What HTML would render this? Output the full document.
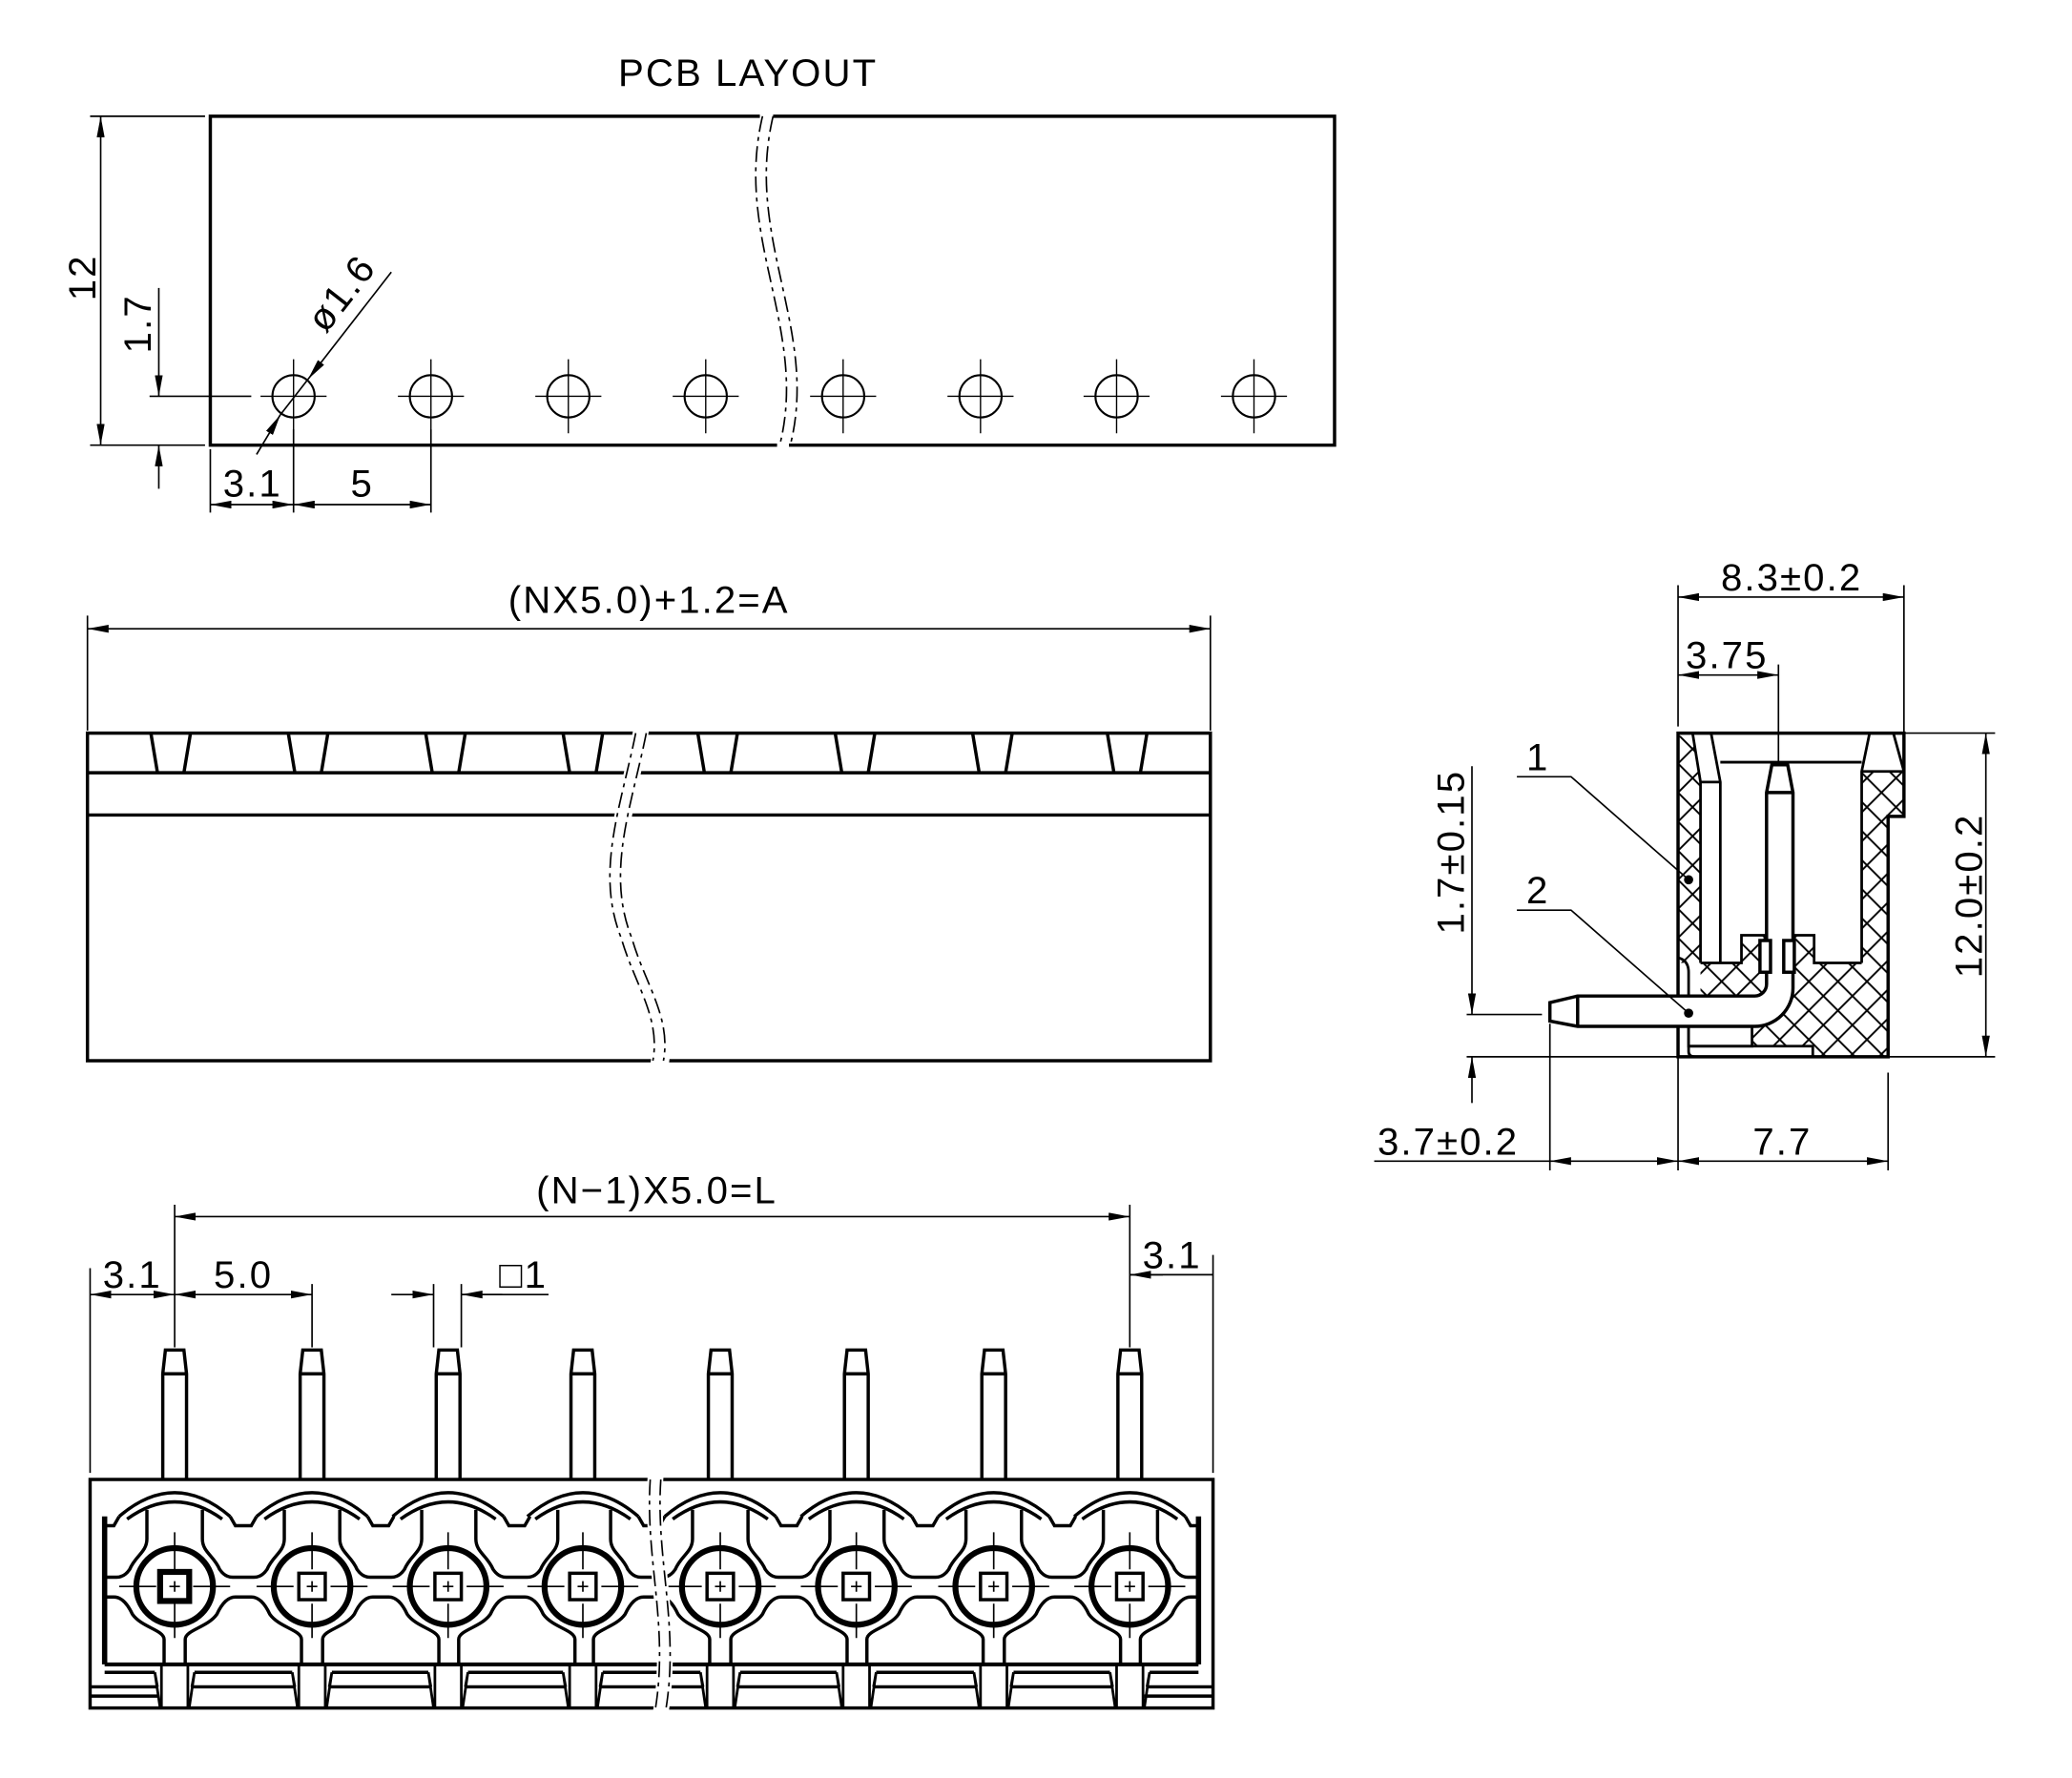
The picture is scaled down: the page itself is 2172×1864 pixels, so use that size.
<!DOCTYPE html>
<html><head><meta charset="utf-8"><style>
html,body{margin:0;padding:0;background:#fff}
svg{display:block}
text{font-family:"Liberation Sans",sans-serif;font-size:29px;fill:#000;letter-spacing:1.5px}
</style></head><body>
<svg width="2172" height="1864" viewBox="0 0 1568 1346" xmlns="http://www.w3.org/2000/svg">
<defs>
<marker id="a" viewBox="0 0 16 6" refX="16" refY="3" markerWidth="16" markerHeight="6" markerUnits="userSpaceOnUse" orient="auto-start-reverse"><path d="M0,0 L16,3 L0,6 Z" fill="#000"/></marker>
<pattern id="h" width="22" height="22" patternUnits="userSpaceOnUse" x="1270" y="556"><path d="M0,0 L22,22 M22,0 L0,22" stroke="#000" stroke-width="1.4"/></pattern>
<clipPath id="inner"><rect x="79" y="1140" width="828" height="120"/></clipPath>
<g id="hole"><circle cx="0" cy="300" r="16" fill="none" stroke="#000" stroke-width="1.5"/><path d="M-25,300 H25 M0,272 V328" stroke="#000" stroke-width="1"/></g>
<g id="pin" fill="none" stroke="#000" stroke-width="2.5"><path d="M-9,1120 V1040 L-7,1022 H7 L9,1040 V1120 M-9,1040 H9"/></g>
<g id="gap" fill="none" stroke="#000" stroke-width="2.5">
<path d="M21,1143 L21,1165 C21,1175 30,1178 34,1188 Q38,1194 44,1194 L60,1194 Q66,1194 70,1188 C74,1178 83,1175 83,1165 L83,1143"/>
<path d="M8,1260 L8,1241 C8,1234 25,1232 32,1222 Q38,1209 46,1209 L58,1209 Q66,1209 72,1222 C79,1232 96,1234 96,1241 L96,1260"/>
<path d="M42,1148 L46,1155 H58 L62,1148"/>
</g>
<g id="term">
<path d="M-42,1148 Q0,1112 42,1148 M-36,1150 Q0,1124 36,1150" fill="none" stroke="#000" stroke-width="2.5"/>
<circle cx="0" cy="1201" r="29" fill="none" stroke="#000" stroke-width="4.5"/>
<rect x="-10" y="1191" width="20" height="20" fill="none" stroke="#000" stroke-width="2.5"/>
<path d="M-4,1201 H4 M0,1197 V1205 M-42,1201 H-14 M14,1201 H42 M0,1160 V1188 M0,1214 V1240" stroke="#000" stroke-width="1.2"/>
<path d="M-10,1260 V1293 M10,1260 V1293 M-15,1266 L-11,1293 M15,1266 L11,1293 M-15,1266 L-13,1277 M15,1266 L13,1277" fill="none" stroke="#000" stroke-width="2"/>
</g>
<g id="notch"><path d="M0,555 L5,585 M30,555 L25,585" stroke="#000" stroke-width="2.5"/></g>
</defs>

<!-- ===== PCB LAYOUT ===== -->
<text x="566" y="65" text-anchor="middle">PCB LAYOUT</text>
<g fill="none" stroke="#000">
<path d="M575,88 H159 V337 H588 M597,337 H1010 V88 H585" stroke-width="2.5"/>
<path d="M577,88 C555,180 612,250 590,337 M585,88 C563,180 620,250 598,337" stroke-width="1.2" stroke-dasharray="12,4,3,4"/>
<path d="M68,88 H155 M68,337 H155" stroke-width="1.2"/>
<line x1="76" y1="88" x2="76" y2="337" stroke-width="1.2" marker-start="url(#a)" marker-end="url(#a)"/>
<line x1="120" y1="218" x2="120" y2="300" stroke-width="1.2" marker-end="url(#a)"/>
<line x1="120" y1="370" x2="120" y2="337" stroke-width="1.2" marker-end="url(#a)"/>
<path d="M113,300 H190" stroke-width="1.2"/>
<line x1="296" y1="206" x2="233" y2="287" stroke-width="1.2" marker-end="url(#a)"/>
<line x1="194" y1="344" x2="212" y2="314" stroke-width="1.2" marker-end="url(#a)"/>
<line x1="212" y1="314" x2="233" y2="287" stroke-width="1.2"/>
<path d="M159,340 V388 M222,325 V388 M326,325 V388" stroke-width="1.2"/>
<line x1="159" y1="382" x2="222" y2="382" stroke-width="1.2" marker-start="url(#a)" marker-end="url(#a)"/>
<line x1="222" y1="382" x2="326" y2="382" stroke-width="1.2" marker-start="url(#a)" marker-end="url(#a)"/>
</g>
<use href="#hole" x="222"/><use href="#hole" x="326"/><use href="#hole" x="430"/><use href="#hole" x="534"/>
<use href="#hole" x="638"/><use href="#hole" x="742"/><use href="#hole" x="845"/><use href="#hole" x="949"/>
<text transform="translate(72,210) rotate(-90)" text-anchor="middle">12</text>
<text transform="translate(114,245) rotate(-90)" text-anchor="middle">1.7</text>
<text transform="translate(266,228) rotate(-52)" text-anchor="middle">ø1.6</text>
<text x="191" y="376" text-anchor="middle">3.1</text>
<text x="274" y="376" text-anchor="middle">5</text>

<!-- ===== SIDE VIEW ===== -->
<text x="491" y="464" text-anchor="middle">(NX5.0)+1.2=A</text>
<g fill="none" stroke="#000">
<path d="M66,466 V553 M916,466 V553" stroke-width="1.2"/>
<line x1="66" y1="476" x2="916" y2="476" stroke-width="1.2" marker-start="url(#a)" marker-end="url(#a)"/>
<rect x="66" y="555" width="850" height="248" stroke-width="2.5"/>
<path d="M66,585 H916 M66,617 H916" stroke-width="2.5"/>
</g>
<use href="#notch" x="114"/><use href="#notch" x="218"/><use href="#notch" x="322"/><use href="#notch" x="426"/>
<use href="#notch" x="528"/><use href="#notch" x="632"/><use href="#notch" x="736"/><use href="#notch" x="838"/>
<path d="M479,553 C468,610 448,660 468,710 C478,745 498,770 492,806 L506,806 C512,770 492,745 480,710 C462,660 482,610 491,553 Z" fill="#fff"/>
<path d="M481,555 C470,610 450,660 470,710 C480,745 500,770 494,803 M489,555 C478,610 458,660 478,710 C488,745 508,770 502,803" fill="none" stroke="#000" stroke-width="1.2" stroke-dasharray="12,4,3,4"/>

<!-- ===== BOTTOM VIEW ===== -->
<text x="497" y="911" text-anchor="middle">(N−1)X5.0=L</text>
<text x="100" y="975" text-anchor="middle">3.1</text>
<text x="184" y="975" text-anchor="middle">5.0</text>
<text x="396" y="975" text-anchor="middle">□1</text>
<text x="887" y="960" text-anchor="middle">3.1</text>
<g fill="none" stroke="#000" stroke-width="1.2">
<path d="M132,912 V1020 M855,912 V1020 M68,960 V1115 M236,972 V1020 M328,972 V1020 M349,972 V1020 M918,950 V1115 M349,980 H415 M855,965 H918"/>
<line x1="132" y1="921" x2="855" y2="921" marker-start="url(#a)" marker-end="url(#a)"/>
<line x1="68" y1="980" x2="132" y2="980" marker-start="url(#a)" marker-end="url(#a)"/>
<line x1="132" y1="980" x2="236" y2="980" marker-start="url(#a)" marker-end="url(#a)"/>
<line x1="296" y1="980" x2="328" y2="980" marker-end="url(#a)"/>
<line x1="380" y1="980" x2="349" y2="980" marker-end="url(#a)"/>
<line x1="880" y1="965" x2="855" y2="965" marker-end="url(#a)"/>
</g>
<use href="#pin" x="132"/><use href="#pin" x="236"/><use href="#pin" x="339"/><use href="#pin" x="441"/>
<use href="#pin" x="545"/><use href="#pin" x="648"/><use href="#pin" x="752"/><use href="#pin" x="855"/>
<g fill="none" stroke="#000" stroke-width="2.5">
<rect x="68" y="1120" width="850" height="173"/>
<path d="M79,1260 H907" stroke-width="3"/>
<path d="M79,1266 H117 M147,1266 H221 M251,1266 H324 M354,1266 H426 M456,1266 H530 M560,1266 H633 M663,1266 H737 M767,1266 H840 M870,1266 H907"/>
<path d="M68,1277 H119 M145,1277 H223 M249,1277 H326 M352,1277 H428 M454,1277 H532 M558,1277 H635 M661,1277 H739 M765,1277 H842 M868,1277 H918"/>
<path d="M68,1284 H120 M866,1284 H918"/>
<path d="M79,1148 V1260 M907,1148 V1260" stroke-width="4"/>
</g>
<g clip-path="url(#inner)">
<use href="#gap" x="28"/><use href="#gap" x="132"/><use href="#gap" x="236"/><use href="#gap" x="339"/><use href="#gap" x="441"/>
<use href="#gap" x="545"/><use href="#gap" x="648"/><use href="#gap" x="752"/><use href="#gap" x="855"/>
</g>
<use href="#term" x="132"/><use href="#term" x="236"/><use href="#term" x="339"/><use href="#term" x="441"/>
<use href="#term" x="545"/><use href="#term" x="648"/><use href="#term" x="752"/><use href="#term" x="855"/>
<rect x="120" y="1189" width="24" height="24" fill="none" stroke="#000" stroke-width="2.5"/>
<path d="M490,1118 C486,1180 504,1230 494,1296 L506,1296 C516,1230 498,1180 502,1118 Z" fill="#fff"/>
<path d="M492,1120 C488,1180 506,1230 496,1293 M500,1120 C496,1180 514,1230 504,1293" fill="none" stroke="#000" stroke-width="1.2" stroke-dasharray="12,4,3,4"/>

<!-- ===== RIGHT SECTION VIEW ===== -->
<g stroke="none">
<path d="M1270,557 H1281 L1287,592 V729 H1270 Z" fill="url(#h)"/>
<path d="M1409,584 H1441 V618 H1429 V800 H1409 Z" fill="url(#h)"/>
<path d="M1287,729 H1318 V708 H1373 V729 H1409 V800 H1372 V792 H1287 Z" fill="url(#h)"/>
</g>
<g fill="none" stroke="#000" stroke-width="2">
<path d="M1270,555 H1441 V618 H1429 V800 H1270 Z" stroke-width="2.5"/>
<path d="M1281,555 L1287,592 V729 M1295,555 L1302,592 V729 M1287,592 H1302 M1287,729 H1318 V708 H1373 V729 H1409 M1302,577 H1409"/>
<path d="M1415,555 L1409,584 V729 M1433,555 L1441,584 M1409,584 H1441"/>
<rect x="1278" y="776" width="48" height="16" fill="#fff"/>
<path d="M1278,736 V796 Q1278,800 1283,800 M1270,725 Q1278,727 1278,736 M1278,792 H1372 V800"/>
</g>
<path d="M1341,579 H1353 L1357,600 V748 A29,29 0 0 1 1328,777 H1194 L1173,773 V759 L1194,754 H1328 A9,9 0 0 0 1337,745 V600 Z M1337,600 H1357 M1194,754 V777" fill="#fff" stroke="#000" stroke-width="2.5"/>
<rect x="1332" y="712" width="8" height="24" fill="#fff" stroke="#000" stroke-width="2.5"/>
<rect x="1350" y="712" width="8" height="24" fill="#fff" stroke="#000" stroke-width="2.5"/>
<circle cx="1278" cy="666" r="3.5" fill="#000"/>
<circle cx="1278" cy="767" r="3.5" fill="#000"/>
<g fill="none" stroke="#000" stroke-width="1.2">
<path d="M1148,588 H1189 L1278,666 M1148,689 H1189 L1278,767"/>
<path d="M1270,443 V550 M1441,443 V580"/>
<line x1="1270" y1="452" x2="1441" y2="452" marker-start="url(#a)" marker-end="url(#a)"/>
<path d="M1346,503 V578"/>
<line x1="1270" y1="511" x2="1346" y2="511" marker-start="url(#a)" marker-end="url(#a)"/>
<path d="M1432,555 H1510 M1110,800 H1510"/>
<line x1="1503" y1="555" x2="1503" y2="800" marker-start="url(#a)" marker-end="url(#a)"/>
<path d="M1110,768 H1167"/>
<line x1="1114" y1="580" x2="1114" y2="768" marker-end="url(#a)"/>
<line x1="1114" y1="835" x2="1114" y2="800" marker-end="url(#a)"/>
<path d="M1173,775 V886 M1270,800 V886 M1429,812 V886 M1040,879 H1173"/>
<line x1="1173" y1="879" x2="1270" y2="879" marker-start="url(#a)" marker-end="url(#a)"/>
<line x1="1270" y1="879" x2="1429" y2="879" marker-start="url(#a)" marker-end="url(#a)"/>
</g>
<text x="1356" y="447" text-anchor="middle">8.3±0.2</text>
<text x="1307" y="506" text-anchor="middle">3.75</text>
<text x="1164" y="583" text-anchor="middle">1</text>
<text x="1164" y="684" text-anchor="middle">2</text>
<text transform="translate(1108,645) rotate(-90)" text-anchor="middle">1.7±0.15</text>
<text transform="translate(1500,678) rotate(-90)" text-anchor="middle">12.0±0.2</text>
<text x="1096" y="874" text-anchor="middle">3.7±0.2</text>
<text x="1349" y="874" text-anchor="middle">7.7</text>
</svg>
</body></html>
